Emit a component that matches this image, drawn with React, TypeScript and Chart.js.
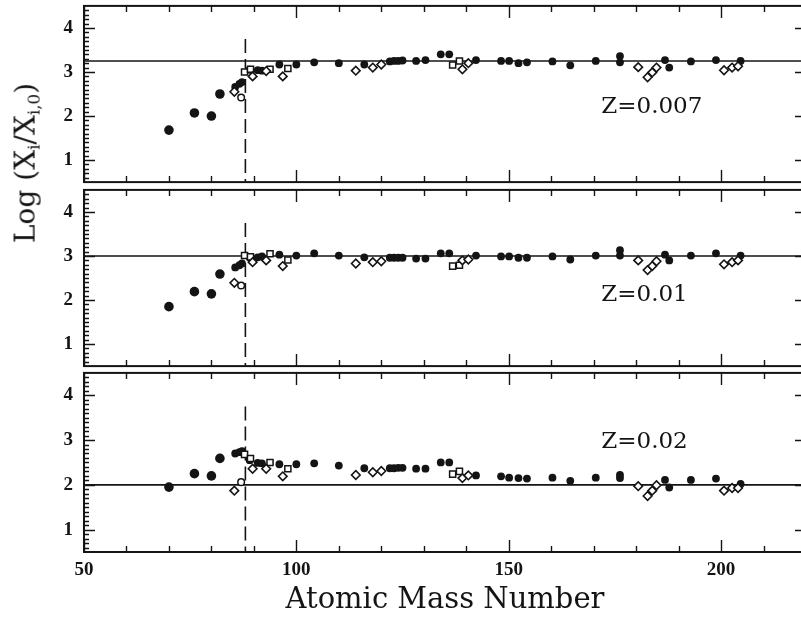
import React, { useEffect, useRef } from "react";
import { Chart, registerables } from "chart.js";

Chart.register(...registerables);

// ---------- data ----------
const xMin = 50;
const xMax = 220;
const yMin = 0.5;
const yMax = 4.5;
const xTickLabels = [50, 100, 150, 200];
const yTickLabels = [1, 2, 3, 4];
const panelNames = ["Z=0.007", "Z=0.01", "Z=0.02"];
const refLevels = [3.25, 3.0, 2.0];
const magicMass = 88;
const magicTop = 3.75;
const labelMass = 171.8;
const labelLevels = [2.21, 2.11, 2.95];

const filledMass = [70, 76, 80, 82, 85.6, 86.6, 87.2, 89, 90.9, 91.9, 96, 100, 104.2, 110, 116, 122, 123, 124, 125, 128.2, 130.4, 134, 136, 142.3, 148.2, 150.1, 152.3, 154.3, 160.3, 164.5, 170.5, 176.2, 176.2, 186.8, 187.8, 192.9, 198.8, 204.6];
const filledZ007 = [1.68, 2.07, 2.0, 2.5, 2.66, 2.73, 2.77, 3.05, 3.04, 3.03, 3.17, 3.17, 3.22, 3.2, 3.17, 3.24, 3.25, 3.25, 3.26, 3.25, 3.27, 3.4, 3.4, 3.27, 3.25, 3.25, 3.2, 3.22, 3.24, 3.15, 3.25, 3.36, 3.22, 3.27, 3.1, 3.24, 3.27, 3.25];
const filledZ01 = [1.85, 2.19, 2.14, 2.59, 2.74, 2.79, 2.83, 2.97, 2.97, 2.99, 3.03, 3.01, 3.06, 3.01, 2.97, 2.96, 2.96, 2.96, 2.96, 2.94, 2.94, 3.06, 3.06, 3.01, 2.99, 2.99, 2.96, 2.96, 2.99, 2.92, 3.01, 3.13, 3.01, 3.03, 2.9, 3.01, 3.06, 3.01];
const filledZ02 = [1.95, 2.25, 2.2, 2.59, 2.7, 2.73, 2.75, 2.55, 2.49, 2.48, 2.46, 2.46, 2.48, 2.43, 2.37, 2.37, 2.37, 2.38, 2.38, 2.36, 2.36, 2.5, 2.5, 2.21, 2.19, 2.16, 2.15, 2.14, 2.16, 2.09, 2.16, 2.22, 2.15, 2.11, 1.94, 2.11, 2.14, 2.02];

const diamondMass = [85.4, 89.7, 92.9, 96.8, 114, 118, 120, 139.1, 140.5, 180.5, 182.7, 183.8, 184.8, 200.7, 202.6, 204];
const diamondZ007 = [2.55, 2.9, 3.02, 2.9, 3.03, 3.1, 3.17, 3.06, 3.2, 3.11, 2.88, 2.99, 3.1, 3.04, 3.1, 3.13];
const diamondZ01 = [2.39, 2.86, 2.9, 2.77, 2.83, 2.86, 2.88, 2.9, 2.92, 2.9, 2.68, 2.77, 2.88, 2.81, 2.86, 2.9];
const diamondZ02 = [1.87, 2.36, 2.36, 2.19, 2.22, 2.28, 2.31, 2.15, 2.21, 1.97, 1.75, 1.87, 1.99, 1.87, 1.93, 1.93];

const squareMass = [87.8, 89.2, 93.8, 98, 136.8, 138.4];
const squareZ007 = [3.0, 3.06, 3.06, 3.08, 3.16, 3.25];
const squareZ01 = [3.01, 2.98, 3.05, 2.91, 2.77, 2.79];
const squareZ02 = [2.68, 2.59, 2.5, 2.36, 2.24, 2.3];

const circleMass = [87];
const circleZ007 = [2.42];
const circleZ01 = [2.33];
const circleZ02 = [2.06];

// ---------- layout ----------
const INK = "#141414";
const CANVAS_W = 820;
const panels = [
  { top: 0, height: 188, padTop: 5, padBottom: 2, showX: false },
  { top: 184, height: 188, padTop: 2, padBottom: 2, showX: false },
  { top: 367, height: 250, padTop: 2, padBottom: 0, showX: true },
];
const seriesByPanel = [
  [filledZ007, diamondZ007, squareZ007, circleZ007],
  [filledZ01, diamondZ01, squareZ01, circleZ01],
  [filledZ02, diamondZ02, squareZ02, circleZ02],
];

const pts = (xs: number[], ys: number[]) => xs.map((x, i) => ({ x, y: ys[i] }));

const tickFont = { family: "'Liberation Serif', serif", size: 19, weight: "bold" as const };

function makeFramePlugin(panelIndex: number, showX: boolean) {
  return {
    id: "frame" + panelIndex,
    afterDraw(chart: any) {
      const { ctx, chartArea, scales } = chart;
      const { left, right, top, bottom } = chartArea;
      const x = scales.x;
      const y = scales.y;
      ctx.save();
      ctx.strokeStyle = INK;
      ctx.lineWidth = 2;
      ctx.strokeRect(left, top, right - left, bottom - top);
      ctx.lineWidth = 1.4;
      ctx.beginPath();
      for (let v = xMin; v <= xMax; v += 10) {
        const px = Math.round(x.getPixelForValue(v)) + 0.5;
        const len = v % 50 === 0 ? 12 : 6;
        ctx.moveTo(px, bottom);
        ctx.lineTo(px, bottom - len);
        ctx.moveTo(px, top);
        ctx.lineTo(px, top + len);
      }
      for (let k = 6; k <= 44; k++) {
        const v = k / 10;
        const py = Math.round(y.getPixelForValue(v)) + 0.5;
        const len = k % 10 === 0 ? 11 : 5;
        ctx.moveTo(left, py);
        ctx.lineTo(left + len, py);
        ctx.moveTo(right, py);
        ctx.lineTo(right - len, py);
      }
      ctx.stroke();

      ctx.fillStyle = INK;
      ctx.font = "23px 'DejaVu Serif', serif";
      ctx.textAlign = "left";
      ctx.textBaseline = "middle";
      ctx.fillText(
        panelNames[panelIndex],
        x.getPixelForValue(labelMass),
        y.getPixelForValue(labelLevels[panelIndex])
      );

      if (showX) {
        ctx.font = "29px 'DejaVu Serif', serif";
        ctx.textAlign = "center";
        ctx.textBaseline = "alphabetic";
        ctx.fillText("Atomic Mass Number", 445, bottom + 56);
      }
      ctx.restore();
    },
  };
}

function Panel({ index }: { index: number }) {
  const ref = useRef<HTMLCanvasElement>(null);
  const cfg = panels[index];
  useEffect(() => {
    const [filled, diamonds, squares, circles] = seriesByPanel[index];
    const chart = new Chart(ref.current as HTMLCanvasElement, {
      type: "scatter",
      data: {
        datasets: [
          {
            data: pts(filledMass, filled),
            pointStyle: "circle",
            pointRadius: (c: any) => (c.raw && c.raw.x < 84 ? 4.8 : 3.9),
            backgroundColor: INK,
            borderColor: INK,
            borderWidth: 0,
            order: 1,
          },
          {
            data: pts(diamondMass, diamonds),
            pointStyle: "rectRot",
            pointRadius: 4.3,
            backgroundColor: "#ffffff",
            borderColor: INK,
            borderWidth: 1.6,
            order: 0,
          },
          {
            data: pts(squareMass, squares),
            pointStyle: "rect",
            pointRadius: 4.3,
            backgroundColor: "#ffffff",
            borderColor: INK,
            borderWidth: 1.5,
            order: 0,
          },
          {
            data: pts(circleMass, circles),
            pointStyle: "circle",
            pointRadius: 3.3,
            backgroundColor: "#ffffff",
            borderColor: INK,
            borderWidth: 1.5,
            order: 0,
          },
          {
            data: [
              { x: xMin, y: refLevels[index] },
              { x: xMax, y: refLevels[index] },
            ],
            showLine: true,
            pointRadius: 0,
            borderColor: INK,
            borderWidth: 1.6,
            order: 5,
          },
          {
            data: [
              { x: magicMass, y: magicTop },
              { x: magicMass, y: yMin },
            ],
            showLine: true,
            pointRadius: 0,
            borderColor: INK,
            borderWidth: 1.6,
            borderDash: [14, 6],
            order: 5,
          },
        ] as any,
      },
      options: {
        responsive: false,
        animation: false,
        devicePixelRatio: 1,
        events: [],
        layout: { padding: { left: 0, right: 14, top: cfg.padTop, bottom: cfg.padBottom } },
        plugins: { legend: { display: false }, tooltip: { enabled: false } },
        scales: {
          x: {
            type: "linear",
            min: xMin,
            max: xMax,
            display: cfg.showX,
            grid: { display: false, drawTicks: false },
            border: { display: false },
            ticks: { font: tickFont, color: INK, padding: 7, maxRotation: 0, autoSkip: false },
            afterBuildTicks: (s: any) => {
              s.ticks = xTickLabels.map((v) => ({ value: v }));
            },
            afterFit: (s: any) => {
              s.height = cfg.showX ? 65 : 0;
              s.paddingLeft = 0;
              s.paddingRight = 0;
            },
          },
          y: {
            type: "linear",
            min: yMin,
            max: yMax,
            grid: { display: false, drawTicks: false },
            border: { display: false },
            ticks: { font: tickFont, color: INK, padding: 11 },
            afterBuildTicks: (s: any) => {
              s.ticks = yTickLabels.map((v) => ({ value: v }));
            },
            afterFit: (s: any) => {
              s.width = 84;
              s.paddingTop = 0;
              s.paddingBottom = 0;
            },
          },
        },
      } as any,
      plugins: [makeFramePlugin(index, cfg.showX)],
    });
    return () => chart.destroy();
  }, [index]);
  return (
    <canvas
      ref={ref}
      width={CANVAS_W}
      height={cfg.height}
      style={{ position: "absolute", left: 0, top: cfg.top, width: CANVAS_W, height: cfg.height }}
    />
  );
}

export default function App() {
  return (
    <div
      style={{
        position: "absolute",
        left: 0,
        top: 0,
        width: 801,
        height: 617,
        overflow: "hidden",
        background: "#ffffff",
      }}
    >
      {panels.map((_, i) => (
        <Panel key={i} index={i} />
      ))}
      <div
        style={{
          position: "absolute",
          left: 27,
          top: 163,
          transform: "translate(-50%, -50%) rotate(-90deg)",
          whiteSpace: "nowrap",
          font: "28px 'DejaVu Serif', serif",
          color: INK,
          lineHeight: 1,
        }}
      >
        Log (X<sub style={{ fontSize: "0.6em", verticalAlign: "-0.3em" }}>i</sub>/X
        <sub style={{ fontSize: "0.6em", verticalAlign: "-0.3em" }}>i,0</sub>)
      </div>
    </div>
  );
}
